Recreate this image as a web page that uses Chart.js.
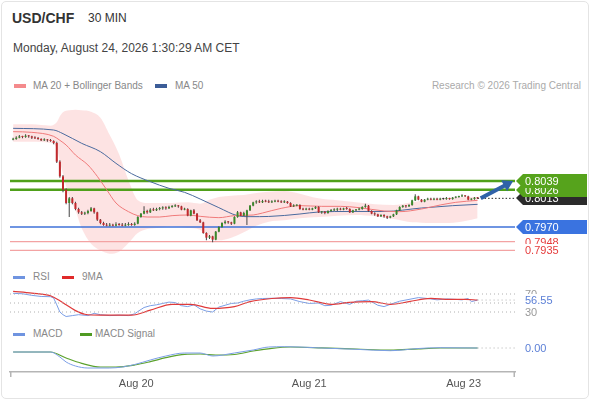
<!DOCTYPE html>
<html lang="en">
<head>
<meta charset="UTF-8">
<title>USD/CHF 30 MIN</title>
<script src="https://cdn.jsdelivr.net/npm/chart.js"></script>
<style>
  html, body { margin: 0; padding: 0; background: #fff; }
  body { width: 590px; height: 400px; position: relative; overflow: hidden;
         font-family: 'Liberation Sans', Arial, sans-serif; }
  .frame { position: absolute; left: 1px; top: 1px; width: 586px; height: 396px;
           border: 1px solid #e4e4e4; border-radius: 5px; }
  .txt { position: absolute; white-space: nowrap; }
  #title { left: 12px; top: 10px; font-size: 14px; line-height: 16px; font-weight: bold; color: #333; }
  #tf { left: 88px; top: 11px; font-size: 12px; line-height: 14px; color: #333; }
  #date { left: 13px; top: 41px; font-size: 12px; line-height: 14px; color: #444; }
  .lg { position: absolute; white-space: nowrap; font-size: 10px; line-height: 12px; color: #888; }
  .sw { position: absolute; width: 12px; height: 4px; }
  canvas { position: absolute; left: 0; }
</style>
</head>
<body>
<div class="frame"></div>
<div class="txt" id="title">USD/CHF</div>
<div class="txt" id="tf">30 MIN</div>
<div class="txt" id="date">Monday, August 24, 2026 1:30:29 AM CET</div>

<div class="sw" style="left:14px;top:84px;background:#f48a8c"></div>
<div class="lg" style="left:33px;top:80px">MA 20 + Bollinger Bands</div>
<div class="sw" style="left:155px;top:84px;background:#3c5d98"></div>
<div class="lg" style="left:175px;top:80px">MA 50</div>
<div class="lg" style="right:9px;top:80px;color:#aaa">Research © 2026 Trading Central</div>

<div class="sw" style="left:13px;top:276px;height:3px;background:#6f94e0"></div>
<div class="lg" style="left:33px;top:271px">RSI</div>
<div class="sw" style="left:62px;top:276px;height:3px;background:#e02a2a"></div>
<div class="lg" style="left:82px;top:271px">9MA</div>

<div class="sw" style="left:13px;top:333px;height:3px;background:#6f94e0"></div>
<div class="lg" style="left:33px;top:328px">MACD</div>
<div class="sw" style="left:80px;top:333px;height:3px;background:#4f9a22"></div>
<div class="lg" style="left:95px;top:328px">MACD Signal</div>

<canvas id="main" width="590" height="165" style="top:100px"></canvas>
<canvas id="rsi" width="590" height="36" style="top:285px"></canvas>
<canvas id="macd" width="590" height="62" style="top:338px"></canvas>

<script>
// 30 min candles, oldest first
const open = [
  0.8101,0.8102,0.8104,0.8106,0.8105,0.8107,0.8106,0.8104,0.8103,0.8102,
  0.8100,0.8101,0.8100,0.8099,0.8096,0.8068,0.8046,0.8026,0.8006,0.8013,
  0.8006,0.7997,0.7992,0.7990,0.7991,0.7994,0.7998,0.7992,0.7981,0.7976,
  0.7973,0.7972,0.7973,0.7972,0.7974,0.7973,0.7972,0.7973,0.7974,0.7973,
  0.7975,0.7985,0.7990,0.7994,0.7992,0.7996,0.7995,0.7997,0.7998,0.7999,
  0.7998,0.8000,0.8001,0.8002,0.8001,0.7996,0.7997,0.7987,0.7995,0.7990,
  0.7980,0.7977,0.7961,0.7954,0.7956,0.7951,0.7963,0.7970,0.7976,0.7978,
  0.7977,0.7975,0.7985,0.7992,0.7987,0.7987,0.7995,0.8002,0.8007,0.8008,
  0.8007,0.8009,0.8008,0.8007,0.8008,0.8009,0.8008,0.8007,0.8008,0.8006,
  0.8001,0.8002,0.8003,0.7997,0.7996,0.7997,0.7996,0.7998,0.8000,0.7992,
  0.7993,0.7991,0.7994,0.7995,0.7996,0.7997,0.7996,0.7998,0.7997,0.7992,
  0.7995,0.7996,0.7997,0.8000,0.8002,0.7994,0.7990,0.7989,0.7986,0.7988,
  0.7986,0.7984,0.7986,0.7989,0.7995,0.8000,0.8002,0.8001,0.8003,0.8010,
  0.8016,0.8011,0.8008,0.8011,0.8012,0.8011,0.8012,0.8011,0.8012,0.8012,
  0.8013,0.8012,0.8014,0.8015,0.8016,0.8017,0.8016,0.8011,0.8012,0.8014
];
const high = [
  0.8104,0.8106,0.8108,0.8107,0.8109,0.8108,0.8107,0.8106,0.8105,0.8103,
  0.8103,0.8102,0.8102,0.8100,0.8098,0.8070,0.8048,0.8028,0.8015,0.8015,
  0.8008,0.7999,0.7994,0.7993,0.7996,0.8000,0.7999,0.7993,0.7982,0.7978,
  0.7976,0.7976,0.7975,0.7977,0.7976,0.7976,0.7976,0.7977,0.7976,0.7977,
  0.7986,0.7991,0.8001,0.7996,0.7998,0.7999,0.7999,0.8000,0.8001,0.8001,
  0.8002,0.8003,0.8004,0.8003,0.8002,0.7999,0.7998,0.7996,0.7997,0.7991,
  0.7982,0.7978,0.7962,0.7958,0.7957,0.7964,0.7971,0.7977,0.7980,0.7979,
  0.7978,0.7986,0.7994,0.7993,0.7993,0.7996,0.8003,0.8008,0.8010,0.8011,
  0.8011,0.8011,0.8011,0.8010,0.8011,0.8011,0.8010,0.8010,0.8009,0.8007,
  0.8004,0.8004,0.8004,0.7999,0.7999,0.7999,0.7999,0.8001,0.8001,0.7994,
  0.7994,0.7995,0.7997,0.7998,0.7999,0.7999,0.7999,0.8000,0.7998,0.7996,
  0.7997,0.7999,0.8001,0.8005,0.8003,0.7995,0.7992,0.7990,0.7989,0.7989,
  0.7987,0.7987,0.7990,0.7996,0.8001,0.8003,0.8003,0.8004,0.8011,0.8019,
  0.8017,0.8012,0.8012,0.8014,0.8014,0.8014,0.8014,0.8014,0.8014,0.8015,
  0.8014,0.8015,0.8016,0.8017,0.8019,0.8018,0.8017,0.8013,0.8015,0.8015
];
const low = [
  0.8100,0.8101,0.8103,0.8103,0.8104,0.8104,0.8102,0.8102,0.8101,0.8099,
  0.8099,0.8098,0.8098,0.8094,0.8066,0.8044,0.8022,0.8004,0.7985,0.8004,
  0.7995,0.7990,0.7988,0.7988,0.7989,0.7993,0.7990,0.7979,0.7974,0.7972,
  0.7971,0.7971,0.7971,0.7971,0.7972,0.7971,0.7971,0.7972,0.7972,0.7972,
  0.7974,0.7984,0.7989,0.7990,0.7991,0.7994,0.7994,0.7995,0.7996,0.7996,
  0.7997,0.7999,0.8000,0.7999,0.7995,0.7995,0.7986,0.7986,0.7989,0.7979,
  0.7976,0.7960,0.7950,0.7952,0.7947,0.7950,0.7962,0.7969,0.7974,0.7975,
  0.7973,0.7974,0.7984,0.7986,0.7986,0.7973,0.7994,0.8001,0.8005,0.8006,
  0.8006,0.8007,0.8006,0.8006,0.8007,0.8007,0.8006,0.8006,0.8005,0.8000,
  0.8000,0.8001,0.7996,0.7995,0.7995,0.7995,0.7995,0.7997,0.7991,0.7990,
  0.7989,0.7990,0.7993,0.7994,0.7994,0.7995,0.7995,0.7996,0.7991,0.7991,
  0.7994,0.7995,0.7996,0.7999,0.7993,0.7989,0.7987,0.7985,0.7985,0.7984,
  0.7982,0.7983,0.7985,0.7988,0.7994,0.7999,0.7999,0.8000,0.8002,0.8009,
  0.8010,0.8007,0.8007,0.8010,0.8010,0.8010,0.8010,0.8010,0.8011,0.8011,
  0.8011,0.8011,0.8013,0.8014,0.8015,0.8015,0.8010,0.8010,0.8011,0.8012
];
const close = [
  0.8102,0.8104,0.8106,0.8105,0.8107,0.8106,0.8104,0.8103,0.8102,0.8100,
  0.8101,0.8100,0.8099,0.8096,0.8068,0.8046,0.8026,0.8006,0.8013,0.8006,
  0.7997,0.7992,0.7990,0.7991,0.7994,0.7998,0.7992,0.7981,0.7976,0.7973,
  0.7972,0.7973,0.7972,0.7974,0.7973,0.7972,0.7973,0.7974,0.7973,0.7975,
  0.7985,0.7990,0.7994,0.7992,0.7996,0.7995,0.7997,0.7998,0.7999,0.7998,
  0.8000,0.8001,0.8002,0.8001,0.7996,0.7997,0.7987,0.7995,0.7990,0.7980,
  0.7977,0.7961,0.7954,0.7956,0.7951,0.7963,0.7970,0.7976,0.7978,0.7977,
  0.7975,0.7985,0.7992,0.7987,0.7991,0.7995,0.8002,0.8007,0.8008,0.8007,
  0.8009,0.8008,0.8007,0.8008,0.8009,0.8008,0.8007,0.8008,0.8006,0.8001,
  0.8002,0.8003,0.7997,0.7996,0.7997,0.7996,0.7998,0.8000,0.7992,0.7993,
  0.7991,0.7994,0.7995,0.7996,0.7997,0.7996,0.7998,0.7997,0.7992,0.7995,
  0.7996,0.7997,0.8000,0.8002,0.7994,0.7990,0.7989,0.7986,0.7988,0.7986,
  0.7984,0.7986,0.7989,0.7995,0.8000,0.8002,0.8001,0.8003,0.8010,0.8016,
  0.8011,0.8008,0.8011,0.8012,0.8011,0.8012,0.8011,0.8012,0.8012,0.8013,
  0.8012,0.8014,0.8015,0.8016,0.8017,0.8016,0.8011,0.8012,0.8014,0.8013
];

// indicators at the candle index given in *Idx
const bbIdx   = [0, 6, 12, 14, 15, 16, 18, 20, 22, 25, 28, 31, 34, 37, 40, 43, 47, 51, 56, 60,
                 63, 66, 70, 74, 78, 82, 87, 92, 98, 104, 110, 116, 122, 128, 134, 140, 145, 149];
const bbUpper = [0.8124, 0.8124, 0.8122, 0.8127, 0.8136, 0.8142, 0.8145, 0.8146, 0.8145, 0.8143,
                 0.8134, 0.8108, 0.8079, 0.8040, 0.8010, 0.8006, 0.8006, 0.8006, 0.8007, 0.8005,
                 0.8011, 0.8015, 0.8017, 0.8018, 0.8021, 0.8023, 0.8024, 0.8020, 0.8013, 0.8010,
                 0.8007, 0.8004, 0.8003, 0.8007, 0.8012, 0.8014, 0.8015, 0.8015];
const bbLower = [0.8098, 0.8098, 0.8096, 0.8088, 0.8068, 0.8050, 0.8015, 0.7995, 0.7968, 0.7945,
                 0.7935, 0.7930, 0.7933, 0.7946, 0.7961, 0.7967, 0.7969, 0.7971, 0.7969, 0.7966,
                 0.7954, 0.7950, 0.7954, 0.7962, 0.7972, 0.7978, 0.7980, 0.7983, 0.7985, 0.7987,
                 0.7988, 0.7986, 0.7982, 0.7977, 0.7976, 0.7976, 0.7979, 0.7983];
const ma20Idx = [0, 6, 13, 15, 17, 20, 24, 27, 30, 33, 37, 40, 43, 47, 51, 56,
                 60, 66, 71, 77, 80, 86, 92, 99, 105, 111, 119, 124, 131, 137, 142, 149];
const ma20    = [0.8113, 0.8112, 0.8106, 0.8100, 0.8093, 0.8078, 0.8063, 0.8046, 0.8026, 0.8006,
                 0.7993, 0.7987, 0.7985, 0.7985, 0.7987, 0.7988, 0.7986, 0.7984, 0.7987, 0.7988,
                 0.7991, 0.7998, 0.8002, 0.8001, 0.8001, 0.7999, 0.7994, 0.7993, 0.7997, 0.8003,
                 0.8007, 0.8010];
const ma50Idx = [0, 13, 16, 22, 28, 33, 38, 44, 50, 55, 60, 66, 72, 76, 82, 92, 98, 108, 119, 131, 141, 149];
const ma50    = [0.8118, 0.81155, 0.8110, 0.80955, 0.8083, 0.80655, 0.8050, 0.8038, 0.8028, 0.8022,
                 0.8012, 0.7999, 0.7987, 0.79855, 0.79858, 0.79895, 0.79925, 0.79933, 0.79933,
                 0.79985, 0.8002, 0.8004];

// support / resistance levels
const resistances = [0.8039, 0.8026];
const pivot = 0.7970;
const supports = [0.7948, 0.7935];

const rsiIdx = [0, 3, 6, 9, 12, 13, 14, 15, 16, 17, 19, 21, 24, 26, 28, 31, 34, 37, 39, 40,
                42, 44, 46, 48, 50, 52, 54, 56, 58, 60, 62, 64, 66, 68, 70, 72, 74, 76, 78, 80,
                83, 86, 89, 92, 95, 98, 100, 102, 105, 108, 110, 112, 114, 117, 119, 121, 124,
                127, 130, 133, 136, 139, 142, 144, 146, 147, 149];
const rsi    = [71.5, 70.5, 67, 64.5, 64, 61, 46, 30, 24, 20, 22, 24, 22, 27, 24, 22, 23, 22, 26, 31,
                40, 44, 46, 49, 52, 51, 44, 42, 46, 37, 32, 30, 41, 45, 49, 50, 54, 57, 59, 60,
                60.5, 60, 59, 53, 49, 50, 44, 45, 53, 47, 54, 55, 56.5, 45, 42, 47, 54,
                58, 62, 60, 57, 59, 58, 57, 60, 53, 56.55];
const rsiMaIdx = [0, 6, 12, 15, 17, 20, 23, 28, 38, 44, 51, 57, 64, 71, 76, 83, 89, 95, 102,
                  108, 115, 121, 127, 134, 140, 145, 149];
const rsiMa    = [76, 72, 66, 55, 46, 33, 25, 23, 23, 34, 47, 47, 38, 42, 53, 60, 61.8, 56.7, 47,
                  51.5, 53, 47, 53, 60.4, 58, 58, 56.7];
const rsiLevels = [70, 50, 30];

const macdIdx = [0, 12, 15, 17, 20, 24, 31, 35, 39, 44, 49, 55, 60, 64, 71, 77, 82, 87, 92,
                 99, 110, 121, 130, 137, 149];
const macd    = [-0.0004, -0.0004, -0.0009, -0.0014, -0.0018, -0.0020, -0.0020, -0.0019, -0.00165,
                 -0.0012, -0.0008, -0.0005, -0.0005, -0.0008, -0.0005, -0.0002, 0.0001, 0.00013,
                 0.0001, 0.0, -0.00013, -0.00027, -0.00005, 0.00003, 0.0];
const signalIdx = [0, 12, 17, 22, 28, 33, 39, 44, 49, 55, 60, 65, 71, 77, 83, 89, 99, 110, 121, 130, 137, 149];
const signal    = [-0.0004, -0.0004, -0.0010, -0.00153, -0.0019, -0.0019, -0.0017, -0.00137, -0.00097,
                   -0.00063, -0.0006, -0.0007, -0.00065, -0.0003, -0.00003, 0.0001, 0.00002, -0.0001,
                   -0.00022, -0.00008, 0.0, 0.0];

// x axis day labels (candle index under the label)
const dayTicks  = [39.5, 95, 144.5];
const dayLabels = ['Aug 20', 'Aug 21', 'Aug 23'];

// ---------------------------------------------------------------

const FONT = "'Liberation Sans', Arial, sans-serif";
Chart.defaults.font.family = FONT;
Chart.defaults.animation = false;
Chart.defaults.events = [];
Chart.defaults.elements.point.radius = 0;
Chart.defaults.plugins.legend.display = false;
Chart.defaults.plugins.tooltip.enabled = false;

const last = close.length - 1;
const X_MIN = -1, X_MAX = 161;
const PAD = { left: 10, right: 75, top: 0, bottom: 0 };

const pts = (idx, vals) => idx.map((x, k) => ({ x, y: vals[k] }));
const hline = (v, x0 = X_MIN, x1 = X_MAX) => [{ x: x0, y: v }, { x: x1, y: v }];

function xScale(show) {
  return {
    type: 'linear', min: X_MIN, max: X_MAX, offset: false, display: show, bounds: 'data',
    grid: { display: false, drawTicks: false },
    border: { display: show, color: '#b5b5b5', width: 1.5 },
    afterBuildTicks: s => { s.ticks = dayTicks.map(v => ({ value: v })); },
    afterFit: s => { if (show) s.height = 28; },
    ticks: { autoSkip: false, maxRotation: 0, padding: 5, color: '#555', font: { size: 11 },
             callback: (v, i) => dayLabels[i] }
  };
}

// price tags / value labels to the right of the plot
const sideLabels = {
  id: 'sideLabels',
  afterDraw(chart, args, opts) {
    const { ctx, chartArea, scales: { y } } = chart;
    const x0 = chartArea.right;
    ctx.save();
    ctx.font = '11px ' + FONT;
    ctx.textBaseline = 'middle';
    (opts.items || []).forEach(it => {
      const py = Math.round(y.getPixelForValue(it.value));
      if (it.tag) {
        ctx.fillStyle = it.bg;
        ctx.beginPath();
        ctx.moveTo(x0 + 1, py);
        ctx.lineTo(x0 + 8, py - 7);
        ctx.lineTo(587, py - 7);
        ctx.lineTo(587, py + 7);
        ctx.lineTo(x0 + 8, py + 7);
        ctx.closePath();
        ctx.fill();
      } else if (it.bg) {
        ctx.fillStyle = it.bg;
        ctx.fillRect(x0 + 7, py - 6, 50, 12);
      }
      ctx.fillStyle = it.color;
      ctx.fillText(it.text, x0 + 10, py + 0.5);
    });
    ctx.restore();
  }
};

// forecast arrow from the last close to the first resistance
const targetArrow = {
  id: 'targetArrow',
  afterDatasetsDraw(chart, args, opts) {
    const { ctx, scales: { x, y } } = chart;
    const x0 = x.getPixelForValue(opts.from[0]), y0 = y.getPixelForValue(opts.from[1]);
    const x1 = x.getPixelForValue(opts.to[0]), y1 = y.getPixelForValue(opts.to[1]);
    const a = Math.atan2(y1 - y0, x1 - x0);
    const head = 12;
    ctx.save();
    ctx.strokeStyle = ctx.fillStyle = '#2f62a8';
    ctx.lineWidth = 4;
    ctx.beginPath();
    ctx.moveTo(x0, y0);
    ctx.lineTo(x1 - head * 0.7 * Math.cos(a), y1 - head * 0.7 * Math.sin(a));
    ctx.stroke();
    ctx.beginPath();
    ctx.moveTo(x1, y1);
    ctx.lineTo(x1 - head * Math.cos(a - 0.55), y1 - head * Math.sin(a - 0.55));
    ctx.lineTo(x1 - head * Math.cos(a + 0.55), y1 - head * Math.sin(a + 0.55));
    ctx.closePath();
    ctx.fill();
    ctx.restore();
  }
};

// little end ticks on the time axis
const axisCaps = {
  id: 'axisCaps',
  afterDraw(chart) {
    const { ctx, chartArea: { left, right, bottom } } = chart;
    ctx.save();
    ctx.strokeStyle = '#b5b5b5';
    ctx.lineWidth = 1.5;
    ctx.beginPath();
    ctx.moveTo(left + 0.75, bottom); ctx.lineTo(left + 0.75, bottom + 5);
    ctx.moveTo(right - 0.75, bottom); ctx.lineTo(right - 0.75, bottom + 5);
    ctx.stroke();
    ctx.restore();
  }
};

const GREEN = '#4fa01a', RED = '#c3282c', BLUE = '#3f72d8';
const candleColor = ctx => {
  const i = ctx.dataIndex;
  if (close[i] > open[i]) return '#3a8a2a';
  if (close[i] < open[i]) return RED;
  return '#333';
};
const smooth = { cubicInterpolationMode: 'monotone', pointRadius: 0 };

// ---- price panel
new Chart(document.getElementById('main'), {
  type: 'bar',
  data: {
    datasets: [
      { type: 'line', data: pts(bbIdx, bbUpper), ...smooth, borderWidth: 0, borderColor: 'transparent',
        fill: '+1', backgroundColor: 'rgba(246,140,140,0.24)', order: 20 },
      { type: 'line', data: pts(bbIdx, bbLower), ...smooth, borderWidth: 0, borderColor: 'transparent',
        fill: false, order: 20 },
      ...resistances.map(v => ({ type: 'line', data: hline(v), borderColor: GREEN, borderWidth: 2.5, order: 15 })),
      { type: 'line', data: hline(pivot), borderColor: BLUE, borderWidth: 1.5, order: 15 },
      ...supports.map(v => ({ type: 'line', data: hline(v), borderColor: '#f3a3a3', borderWidth: 1.2, order: 15 })),
      { type: 'line', data: hline(close[last], last, X_MAX), borderColor: '#222', borderWidth: 1,
        borderDash: [1.5, 2], order: 14 },
      { type: 'line', data: pts(ma50Idx, ma50), ...smooth, borderColor: '#4a6a9e', borderWidth: 1, order: 12 },
      { type: 'line', data: pts(ma20Idx, ma20), ...smooth, borderColor: '#f07a7a', borderWidth: 1, order: 11 },
      { data: low.map((l, i) => ({ x: i, y: [l, high[i]] })), backgroundColor: '#444',
        grouped: false, maxBarThickness: 1, borderWidth: 0, order: 3 },
      { data: open.map((o, i) => ({ x: i, y: [o, close[i]] })), backgroundColor: candleColor,
        grouped: false, maxBarThickness: 2, minBarLength: 1, borderWidth: 0, order: 2 }
    ]
  },
  options: {
    responsive: false,
    layout: { padding: PAD },
    scales: {
      x: xScale(false),
      y: { type: 'linear', display: false, min: 0.7913, max: 0.81605 }
    },
    plugins: {
      filler: { drawTime: 'beforeDatasetsDraw' },
      targetArrow: { from: [last + 1, close[last]], to: [160.4, resistances[0]] },
      sideLabels: {
        items: [
          { value: close[last], text: close[last].toFixed(4), tag: true, bg: '#2b2b2b', color: '#fff' },
          { value: resistances[1], text: resistances[1].toFixed(4), tag: true, bg: '#56a31c', color: '#fff' },
          { value: resistances[0], text: resistances[0].toFixed(4), tag: true, bg: '#56a31c', color: '#fff' },
          { value: pivot, text: pivot.toFixed(4), tag: true, bg: '#3a73e0', color: '#fff' },
          { value: supports[0], text: supports[0].toFixed(4), bg: '#fff', color: '#e53b3b' },
          { value: supports[1], text: supports[1].toFixed(4), bg: '#fff', color: '#e53b3b' }
        ]
      }
    }
  },
  plugins: [sideLabels, targetArrow]
});

// ---- RSI panel
new Chart(document.getElementById('rsi'), {
  type: 'line',
  data: {
    datasets: [
      ...rsiLevels.map(v => ({ data: hline(v), borderColor: '#b0b0b0', borderWidth: 1, borderDash: [1, 3] })),
      { data: hline(rsi[rsi.length - 1], last, X_MAX), borderColor: '#b0b0b0', borderWidth: 1, borderDash: [1, 3] },
      { data: pts(rsiMaIdx, rsiMa), ...smooth, borderColor: '#e03a3a', borderWidth: 1.2 },
      { data: pts(rsiIdx, rsi), borderColor: '#7b9ee6', borderWidth: 1, tension: 0 }
    ]
  },
  options: {
    responsive: false,
    layout: { padding: PAD },
    scales: {
      x: xScale(false),
      y: { type: 'linear', display: false, min: 10, max: 90 }
    },
    plugins: {
      sideLabels: {
        items: [
          { value: rsiLevels[0], text: String(rsiLevels[0]), color: '#999' },
          { value: rsiLevels[2], text: String(rsiLevels[2]), color: '#999' },
          { value: rsi[rsi.length - 1], text: rsi[rsi.length - 1].toFixed(2), bg: '#fff', color: '#5b7fd6' }
        ]
      }
    }
  },
  plugins: [sideLabels]
});

// ---- MACD panel + time axis
new Chart(document.getElementById('macd'), {
  type: 'line',
  data: {
    datasets: [
      { data: hline(0, last, X_MAX), borderColor: '#b0b0b0', borderWidth: 1, borderDash: [1, 3] },
      { data: pts(macdIdx, macd), ...smooth, borderColor: '#7b9ee6', borderWidth: 1 },
      { data: pts(signalIdx, signal), ...smooth, borderColor: '#5ca22e', borderWidth: 1.2 }
    ]
  },
  options: {
    responsive: false,
    layout: { padding: PAD },
    scales: {
      x: xScale(true),
      y: { type: 'linear', display: false, min: -0.0024, max: 0.0010 }
    },
    plugins: {
      sideLabels: {
        items: [
          { value: 0, text: Math.abs(macd[macd.length - 1]).toFixed(2), color: '#5b7fd6' }
        ]
      }
    }
  },
  plugins: [sideLabels, axisCaps]
});
</script>
</body>
</html>
